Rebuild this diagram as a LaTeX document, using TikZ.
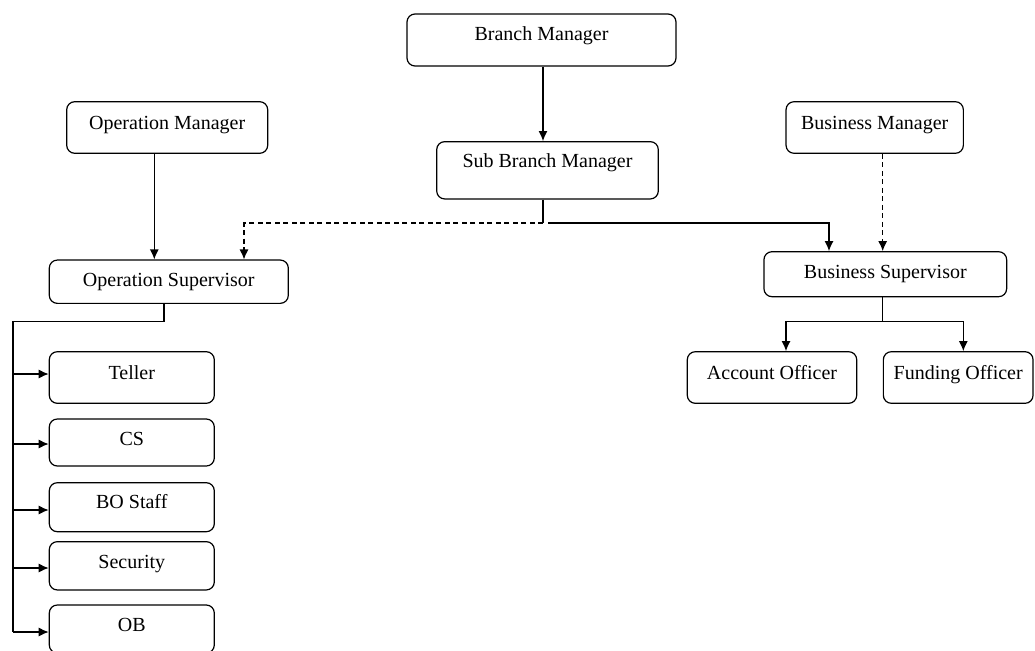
\documentclass[tikz,border=0pt]{standalone}
\usepackage{fontspec}
\setmainfont{Liberation Serif}
\usetikzlibrary{arrows.meta}
\begin{document}
\begin{tikzpicture}[x=1pt,y=-1pt,
  box/.style={draw, line width=1.2pt, rounded corners=8pt, inner sep=0pt,
    font=\fontsize{20}{22}\selectfont, text height=14pt, text depth=#1},
  box/.default=10pt,
  link/.style={line width=1.2pt},
  arr/.style={line width=1.2pt, -{Latex[length=10pt,width=9pt]}},
  dashline/.style={dash pattern=on 5pt off 3.5pt}]
\useasboundingbox (0,0) rectangle (1035,650);
% boxes
\node[box=13.4pt, minimum width=269pt, minimum height=52pt] (bm) at (541.5,40) {Branch Manager};
\node[box=18.8pt, minimum width=221.6pt, minimum height=57.3pt] (sbm) at (547.5,170.3) {Sub Branch Manager};
\node[box=10.4pt, minimum width=201pt, minimum height=51.6pt] (om) at (167.2,127.5) {Operation Manager};
\node[box=10.4pt, minimum width=177.3pt, minimum height=51.6pt] (bzm) at (874.7,127.5) {Business Manager};
\node[box=4.2pt, minimum width=239pt, minimum height=43.3pt] (os) at (168.8,281.7) {Operation Supervisor};
\node[box=5.8pt, minimum width=242.7pt, minimum height=45pt] (bs) at (885.3,274.2) {Business Supervisor};
\node[box=9.8pt, minimum width=169.4pt, minimum height=51.6pt] (ao) at (772,377.5) {Account Officer};
\node[box=9.8pt, minimum width=149.7pt, minimum height=51.6pt] (fo) at (958.2,377.5) {Funding Officer};
\node[box=9.8pt, minimum width=165pt, minimum height=51.6pt] (teller) at (131.8,377.5) {Teller};
\node[box=8.2pt, minimum width=165pt, minimum height=47pt] (cs) at (131.8,442.5) {CS};
\node[box=10.8pt, minimum width=165pt, minimum height=49pt] (bo) at (131.8,507.2) {BO Staff};
\node[box=8.2pt, minimum width=165pt, minimum height=48.3pt] (sec) at (131.8,565.8) {Security};
\node[box=9.4pt, minimum width=165pt, minimum height=48pt] (ob) at (131.8,629) {OB};
% junction coordinates
\coordinate (j1) at (543,223);
\coordinate (j2) at (548,223);
\coordinate (lt) at (13,321.7);
\coordinate (s1) at (13,374);
\coordinate (s2) at (13,444);
\coordinate (s3) at (13,510);
\coordinate (s4) at (13,568);
\coordinate (s5) at (13,632);
\coordinate (rj) at (882.7,321.7);
% connectors
\draw[arr] ([xshift=1.5pt]bm.south) -- ([xshift=-4.5pt]sbm.north);
\draw[link] ([xshift=-4.5pt]sbm.south) -- (j1);
\draw[arr, dashline] (j1) -| ([xshift=75.2pt]os.north);
\draw[arr] (j2) -| ([xshift=-56.3pt]bs.north);
\draw[arr] ([xshift=-12.9pt]om.south) -- ([xshift=-14.5pt]os.north);
\draw[arr, dashline] ([xshift=8pt]bzm.south) -- ([xshift=-2.6pt]bs.north);
\draw[link] ([xshift=-4.8pt]os.south) |- (lt) -- (s5);
\draw[arr] (s1) -- (teller.west |- s1);
\draw[arr] (s2) -- (cs.west |- s2);
\draw[arr] (s3) -- (bo.west |- s3);
\draw[arr] (s4) -- (sec.west |- s4);
\draw[arr] (s5) -- (ob.west |- s5);
\draw[link] ([xshift=-2.6pt]bs.south) -- (rj);
\draw[arr] (rj) -| ([xshift=14pt]ao.north);
\draw[arr] (rj) -| ([xshift=5.1pt]fo.north);
\end{tikzpicture}
\end{document}
